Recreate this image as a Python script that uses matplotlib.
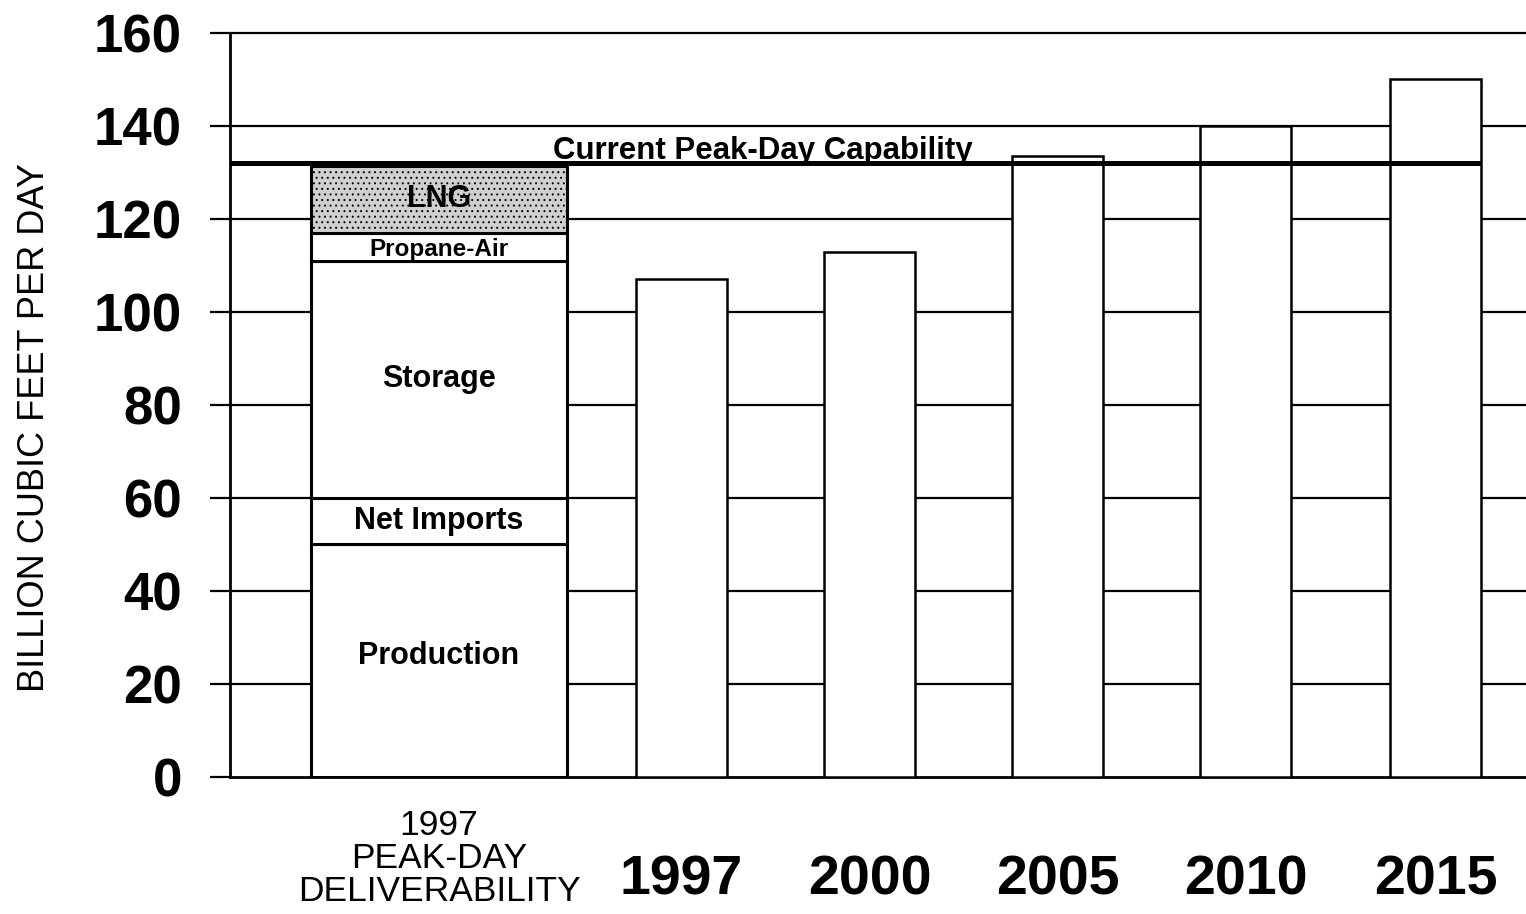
import numpy as np
import matplotlib
matplotlib.use("Agg")
import matplotlib.pyplot as plt
from matplotlib.transforms import blended_transform_factory

plt.rcParams["font.family"] = ["Liberation Sans", "DejaVu Sans"]
plt.rcParams["hatch.linewidth"] = 0.7

# data
segments = ["Production", "Net Imports", "Storage", "Propane-Air", "LNG"]
segment_values = [50, 10, 51, 6, 14.5]
years = ["1997", "2000", "2005", "2010", "2015"]
year_values = [107, 113, 133.5, 140, 150]
capability = 132
stack_label = "1997\nPEAK-DAY\nDELIVERABILITY"
y_ticks = [0, 20, 40, 60, 80, 100, 120, 140, 160]

# layout
stack_x = 0.0
stack_w = 1.36
year_x = [1.29, 2.29, 3.29, 4.29, 5.30]
year_w = 0.48
x_left, x_right = -1.112, 5.782

fig = plt.figure(figsize=(15.26, 9.14), dpi=100)
ax = fig.add_axes([0.1507, 0.1499, 0.8493, 0.814])

# grid lines behind bars
for t in y_ticks:
    ax.axhline(t, color="black", lw=1.6 if t else 2.0, zorder=1, clip_on=False)

# stacked bar
bottom = 0
for name, val in zip(segments, segment_values):
    if name == "LNG":
        ax.bar(stack_x, val, width=stack_w, bottom=bottom, facecolor="#d0d0d0",
               edgecolor="black", lw=2.2, hatch="...", zorder=3)
    else:
        ax.bar(stack_x, val, width=stack_w, bottom=bottom, facecolor="white",
               edgecolor="black", lw=2.2, zorder=3)
    bottom += val

# segment labels
seg_bottoms = np.cumsum([0] + segment_values[:-1])
for name, b, val in zip(segments, seg_bottoms, segment_values):
    yc = b + val / 2
    size = 22
    if name == "Production":
        yc = 26
    if name == "Propane-Air":
        size = 17.5
        yc = b + val / 2 - 0.6
    ax.text(stack_x, yc, name, ha="center", va="center", fontsize=size,
            fontweight="bold", zorder=5)

# yearly bars
ax.bar(year_x, year_values, width=year_w, facecolor="white",
       edgecolor="black", lw=1.8, zorder=3)

# capability line
ax.hlines(capability, x_left, year_x[-1] + year_w / 2, color="black",
          lw=3.6, zorder=4, clip_on=False)
ax.text(1.72, capability + 0.9, "Current Peak-Day Capability", ha="center",
        va="baseline", fontsize=22.5, fontweight="bold", zorder=5)

# axes styling
ax.set_xlim(x_left, x_right)
ax.set_ylim(0, 160)
for s in ["top", "right", "bottom"]:
    ax.spines[s].set_visible(False)
ax.spines["left"].set_linewidth(2.0)
ax.spines["left"].set_zorder(4)
ax.set_yticks(y_ticks)
ax.set_yticklabels([str(t) for t in y_ticks], fontsize=38, fontweight="bold")
ax.tick_params(axis="y", direction="out", length=14.5, width=1.6, pad=20)
ax.set_xticks([])
ax.set_ylabel("BILLION CUBIC FEET PER DAY", fontsize=26)
ax.yaxis.set_label_coords(-0.137, 0.47)

# category labels below the axis
trans = blended_transform_factory(ax.transData, ax.transAxes)
for x, lab in zip(year_x, years):
    ax.text(x, -0.139, lab, transform=trans, ha="center", va="center",
            fontsize=40, fontweight="bold", clip_on=False)
ax.text(stack_x, -0.110, stack_label, transform=trans, ha="center",
        va="center", fontsize=25.5, linespacing=1.0, clip_on=False)

fig.savefig("out.png", dpi=100)
